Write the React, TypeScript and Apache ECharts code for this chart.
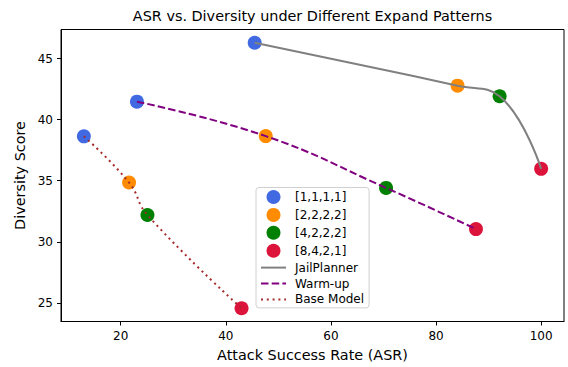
import React, { useEffect, useRef } from "react";
import * as echarts from "echarts";

const patterns = ["[1,1,1,1]", "[2,2,2,2]", "[4,2,2,2]", "[8,4,2,1]"];
const patternColors = ["#4169E1", "#FF8C00", "#008000", "#DC143C"];

const models = ["JailPlanner", "Warm-up", "Base Model"];
const modelColors = ["#808080", "#800080", "#A52A2A"];

// values in pattern order
const jailPlannerASR = [45.5, 84.1, 92.1, 100.0];
const jailPlannerDiv = [46.29, 42.78, 41.91, 35.97];
const warmupASR = [23.1, 47.6, 70.5, 87.6];
const warmupDiv = [41.47, 38.65, 34.41, 31.04];
const baseASR = [13.0, 21.6, 25.1, 43.0];
const baseDiv = [38.63, 34.85, 32.19, 24.56];

const xTicks = [20, 40, 60, 80, 100];
const yTicks = [25, 30, 35, 40, 45];

const FONT = "DejaVu Sans";

export default function App() {
  const ref = useRef<HTMLDivElement>(null);
  useEffect(() => {
    if (!ref.current) return;
    const chart = echarts.init(ref.current, null, { renderer: "svg" });
    const asrs = [jailPlannerASR, warmupASR, baseASR];
    const divs = [jailPlannerDiv, warmupDiv, baseDiv];
    const allX = asrs.flat();
    const allY = divs.flat();
    const xMinD = Math.min(...allX), xMaxD = Math.max(...allX);
    const yMinD = Math.min(...allY), yMaxD = Math.max(...allY);
    const xPad = (xMaxD - xMinD) * 0.05, yPad = (yMaxD - yMinD) * 0.05;

    const scatterSeries = patterns.map((p, i) => ({
      type: "scatter",
      name: p,
      symbol: "circle",
      symbolSize: 14,
      itemStyle: { color: patternColors[i], opacity: 1 },
      data: asrs.map((a, m) => [a[i], divs[m][i]]),
      z: 2,
    }));
    const dashTypes: any[] = ["solid", [7.5, 3.2], [2, 3.8]];
    const lineSeries = models.map((m, k) => ({
      type: "line",
      name: m,
      smooth: 0.45,
      symbol: "none",
      lineStyle: { color: modelColors[k], width: 2, type: dashTypes[k] },
      itemStyle: { color: modelColors[k] },
      data: asrs[k].map((a, i) => [a, divs[k][i]]),
      z: 3,
    }));

    chart.setOption({
      animation: false,
      textStyle: { fontFamily: FONT },
      title: {
        text: "ASR vs. Diversity under Different Expand Patterns",
        left: 312.5,
        top: 9,
        padding: 0,
        textAlign: "center",
        textStyle: { fontFamily: FONT, fontSize: 14.4, fontWeight: "normal", color: "#000" },
      },
      grid: {
        left: 61,
        right: 4,
        top: 29.5,
        bottom: 45.5,
        show: true,
        borderColor: "#000",
        borderWidth: 1,
        backgroundColor: "transparent",
      },
      legend: {
        orient: "vertical",
        left: 256,
        top: 187.5,
        itemWidth: 25,
        itemHeight: 14,
        itemGap: 3.9,
        padding: [2.5, 5, 2.5, 4],
        backgroundColor: "#fff",
        borderColor: "#d0d0d0",
        borderWidth: 1,
        borderRadius: 3,
        textStyle: { fontFamily: FONT, fontSize: 12, color: "#000", padding: [0, 0, 0, 4] },
        data: [
          ...patterns,
          ...models.map((m) => ({
            name: m,
            itemStyle: { opacity: 0, color: "transparent", borderWidth: 0 },
          })),
        ],
      },
      xAxis: {
        type: "value",
        min: xMinD - xPad,
        max: xMaxD + xPad,
        name: "Attack Success Rate (ASR)",
        nameLocation: "middle",
        nameGap: 26,
        nameTextStyle: { fontFamily: FONT, fontSize: 14.4, color: "#000" },
        axisLine: { show: true, onZero: false, lineStyle: { color: "#000", width: 1 } },
        axisTick: { show: true, length: 4, lineStyle: { color: "#000", width: 1 }, customValues: xTicks },
        axisLabel: { fontFamily: FONT, fontSize: 12, color: "#000", margin: 8, customValues: xTicks },
        splitLine: { show: false },
      },
      yAxis: {
        type: "value",
        min: yMinD - yPad,
        max: yMaxD + yPad,
        name: "Diversity Score",
        nameLocation: "middle",
        nameGap: 34,
        nameRotate: 90,
        nameTextStyle: { fontFamily: FONT, fontSize: 14.4, color: "#000" },
        axisLine: { show: true, onZero: false, lineStyle: { color: "#000", width: 1 } },
        axisTick: { show: true, length: 4, lineStyle: { color: "#000", width: 1 }, customValues: yTicks },
        axisLabel: { fontFamily: FONT, fontSize: 12, color: "#000", margin: 8, customValues: yTicks },
        splitLine: { show: false },
      },
      series: [...scatterSeries, ...lineSeries],
    });
    return () => chart.dispose();
  }, []);
  return (
    <div
      ref={ref}
      style={{ position: "fixed", left: 0, top: 0, width: 568, height: 367, background: "#fff" }}
    />
  );
}
